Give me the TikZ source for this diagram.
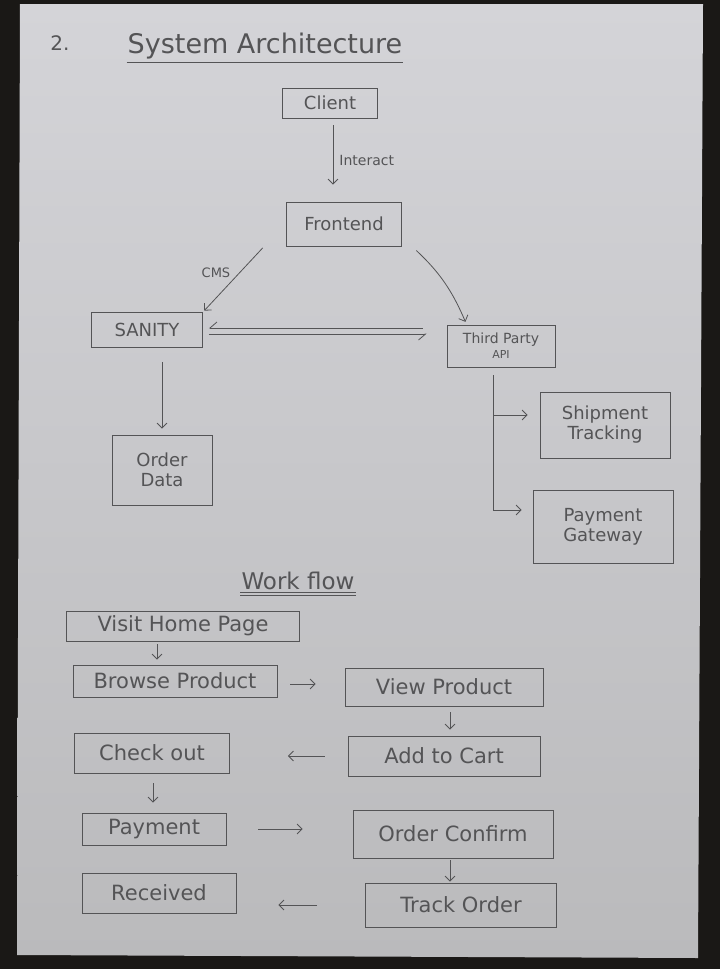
\documentclass[tikz,border=0pt]{standalone}
\usepackage{fontspec}
\setmainfont{DejaVu Sans}
\usetikzlibrary{arrows.meta}

\definecolor{pencil}{RGB}{84,84,86}
\definecolor{paper}{RGB}{212,212,216}
\definecolor{paperlow}{RGB}{186,186,188}
\definecolor{desk}{RGB}{26,24,22}

\tikzset{
  box/.style={draw=pencil, thick, text=pencil, align=center, inner sep=1pt,
    font=\fontsize{18}{20}\selectfont},
  stage/.style={box, font=\fontsize{21}{23}\selectfont},
  flow/.style={draw=pencil, thick, -{Straight Barb[length=5pt, width=10pt]}},
  harp/.style={draw=pencil, thick, -{Straight Barb[right, length=7pt, width=12pt]}},
  note/.style={text=pencil, inner sep=1pt},
}

\begin{document}
\begin{tikzpicture}[x=1pt, y=-1pt]
  \useasboundingbox (0,0) rectangle (720,969);

  % desk and the sheet of paper
  \fill[desk] (0,0) rectangle (720,969);
  \shade[top color=paper, bottom color=paperlow]
    (20,4) -- (703,4) -- (698,958) -- (17,955) -- cycle;

  % Heading
  \node[note, font=\fontsize{20}{22}\selectfont] (num) at (60,43) {2.};
  \node[note, font=\fontsize{27}{29}\selectfont] (title) at (265,46) {System Architecture};
  \draw[pencil, thick] ([yshift=-2pt]title.south west) -- ([yshift=-2pt]title.south east);

  % Architecture boxes
  \node[box, minimum width=95pt, minimum height=30pt] (client) at (330,103) {Client};
  \node[box, minimum width=115pt, minimum height=44pt] (front) at (344,224) {Frontend};
  \node[box, minimum width=111pt, minimum height=35pt] (sanity) at (147,330) {SANITY};
  \node[box, minimum width=108pt, minimum height=42pt, font=\fontsize{14}{15}\selectfont]
    (third) at (501,346) {Third Party\\{\fontsize{11}{12}\selectfont API}};
  \node[box, minimum width=100pt, minimum height=70pt] (orders) at (162,470) {Order\\Data};
  \node[box, minimum width=130pt, minimum height=66pt] (ship) at (605,425) {Shipment\\Tracking};
  \node[box, minimum width=140pt, minimum height=73pt] (gateway) at (603,527) {Payment\\Gateway};

  \draw[flow, shorten <=7pt, shorten >=17pt] ([xshift=3pt]client.south) -- ([xshift=3pt]client.south |- front.north)
    node[note, midway, right=5pt, font=\fontsize{14}{16}\selectfont] {Interact};
  \draw[flow, shorten <=2pt, shorten >=2pt] ([xshift=-22pt]front.south west) -- (sanity.north east)
    node[note, pos=0.4, left=8pt, font=\fontsize{13}{15}\selectfont] {CMS};
  \draw[flow, shorten <=6pt, shorten >=3pt] ([xshift=10pt]front.south east)
    to[bend left=12] ([xshift=20pt]third.north west);

  % two way link
  \draw[harp, shorten <=24pt, shorten >=6pt] ([yshift=2pt]third.west |- sanity.east) -- ([yshift=2pt]sanity.east);
  \draw[harp, shorten <=6pt, shorten >=20pt] ([yshift=-4pt]sanity.east) -- ([yshift=-4pt]third.west |- sanity.east);

  \draw[flow, shorten <=14pt, shorten >=6pt] (sanity.south -| orders.north) -- (orders.north);

  \coordinate (tap) at ([xshift=-8pt, yshift=-8pt]third.south);
  \draw[flow, shorten >=11pt] (tap) |- ([yshift=17pt]gateway.west);
  \draw[flow, shorten >=12pt] ([yshift=10pt]tap |- ship.west) -- ([yshift=10pt]ship.west);

  % Workflow
  \node[note, font=\fontsize{23}{25}\selectfont] (wf) at (298,581) {Work flow};
  \draw[pencil, thick] ([yshift=-1pt]wf.south west) -- ([yshift=-1pt]wf.south east);
  \draw[pencil, thick] ([yshift=-4pt]wf.south west) -- ([yshift=-4pt]wf.south east);

  \node[stage, minimum width=233pt, minimum height=30pt] (visit) at (183,626) {Visit Home Page};
  \node[stage, minimum width=204pt, minimum height=32pt] (browse) at (175,681) {Browse Product};
  \node[stage, minimum width=198pt, minimum height=38pt] (view) at (444,687) {View Product};
  \node[stage, minimum width=192pt, minimum height=40pt] (cart) at (444,756) {Add to Cart};
  \node[stage, minimum width=155pt, minimum height=40pt] (checkout) at (152,753) {Check out};
  \node[stage, minimum width=144pt, minimum height=32pt] (payment) at (154,829) {Payment};
  \node[stage, minimum width=200pt, minimum height=48pt] (confirm) at (453,834) {Order Confirm};
  \node[stage, minimum width=191pt, minimum height=44pt] (track) at (461,905) {Track Order};
  \node[stage, minimum width=154pt, minimum height=40pt] (received) at (159,893) {Received};

  \draw[flow, shorten <=3pt, shorten >=5pt] ([xshift=-26pt]visit.south) -- ([xshift=-26pt]visit.south |- browse.north);
  \draw[flow, shorten <=13pt, shorten >=29pt] ([yshift=-3pt]browse.east) -- ([yshift=-3pt]browse.east -| view.west);
  \draw[flow, shorten <=6pt, shorten >=6pt] ([xshift=6pt]view.south) -- ([xshift=6pt]cart.north);
  \draw[flow, shorten <=23pt, shorten >=58pt] (cart.west) -- (cart.west -| checkout.east);
  \draw[flow, shorten <=10pt, shorten >=10pt] ([xshift=1pt]checkout.south) -- ([xshift=1pt]checkout.south |- payment.north);
  \draw[flow, shorten <=32pt, shorten >=50pt] (payment.east) -- (payment.east -| confirm.west);
  \draw[flow, shorten <=2pt, shorten >=1pt] ([xshift=-3pt]confirm.south) -- ([xshift=-3pt]confirm.south |- track.north);
  \draw[flow, shorten <=48pt, shorten >=42pt] (track.west) -- (track.west -| received.east);

\end{tikzpicture}
\end{document}
